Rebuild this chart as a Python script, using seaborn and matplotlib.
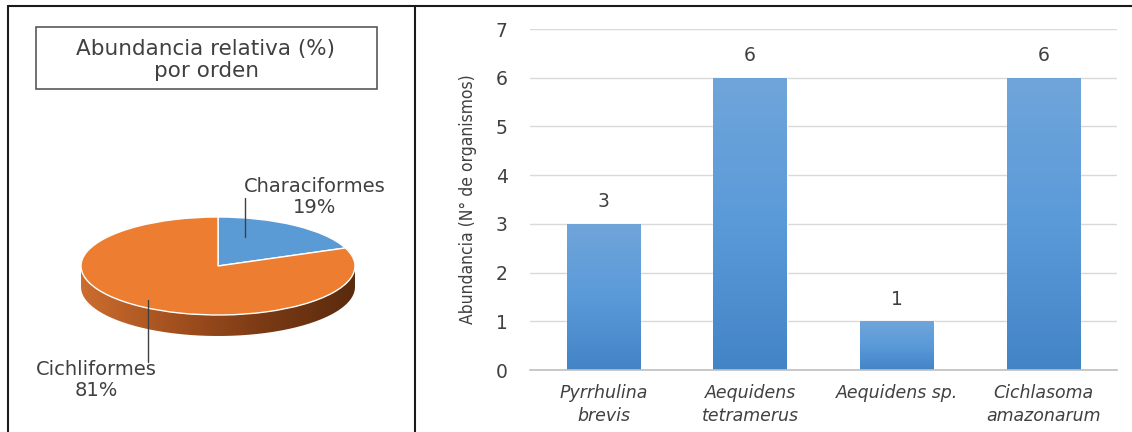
import numpy as np
import pandas as pd
import matplotlib
matplotlib.use("Agg")
import matplotlib.pyplot as plt
import seaborn as sns
from matplotlib import font_manager as fm
from matplotlib.lines import Line2D
from matplotlib.patches import Rectangle, PathPatch
from matplotlib.path import Path
from matplotlib.colors import LinearSegmentedColormap

# ---------------- data ----------------
orders = ["Characiformes", "Cichliformes"]
order_pct = [19, 81]
species = ["Pyrrhulina\nbrevis", "Aequidens\ntetramerus", "Aequidens sp.", "Cichlasoma\namazonarum"]
counts = [3, 6, 1, 6]
yticks = [0, 1, 2, 3, 4, 5, 6, 7]

pie_title = "Abundancia relativa (%)\npor orden"
ylabel = "Abundancia (N° de organismos)"

# ---------------- style ----------------
sns.set_theme(style="white")
plt.rcParams["font.family"] = ["DejaVu Sans"]
TXT = "#404040"

avail = {f.name for f in fm.fontManager.ttflist}
if "Liberation Sans Narrow" in avail:
    ylab_font = dict(family=["Liberation Sans Narrow"], fontstretch="condensed", fontsize=14.5)
else:
    ylab_font = dict(family=["DejaVu Sans"], fontstretch="condensed", fontsize=12.5)

W, H = 1132, 432
fig = plt.figure(figsize=(W / 100, H / 100), dpi=100)


def fx(x):
    return x / W


def fy(y):
    return 1 - y / H


# ---------------- frame lines ----------------
for (x0, y0, x1, y1) in [(8, 6, 1132, 6), (8, 6, 8, 432), (415, 6, 415, 432)]:
    fig.add_artist(Line2D([fx(x0), fx(x1)], [fy(y0), fy(y1)], color="#1a1a1a", lw=1.5))

# ---------------- pie panel ----------------
cx, cy, a, b, depth_px = 218, 266, 137, 49, 21
axp = fig.add_axes([fx(10), 0, fx(413) - fx(10), fy(8)])
pie_colors = ["#5B9BD5", "#ED7D31"]

d = depth_px / b
t = np.linspace(np.pi, 2 * np.pi, 200)
xs = np.concatenate([np.cos(t), np.cos(t[::-1])])
ys = np.concatenate([np.sin(t) - d, np.sin(t[::-1])])
side_patch = PathPatch(Path(np.column_stack([xs, ys])), facecolor="none", edgecolor="none")
axp.add_patch(side_patch)
side_cmap = LinearSegmentedColormap.from_list("side", ["#cc6d2f", "#a4511f", "#7a3a14", "#5a2b0e"])
grad = np.linspace(0, 1, 256).reshape(1, -1)
im = axp.imshow(grad, cmap=side_cmap, extent=[-1, 1, -1 - d, 0], aspect="auto", zorder=1)
im.set_clip_path(side_patch)

axp.pie(order_pct, colors=pie_colors, startangle=90, counterclock=False,
        wedgeprops=dict(edgecolor="white", linewidth=1.0, zorder=2))
axp.set_aspect("auto")
axp.set_xlim((10 - cx) / a, (413 - cx) / a)
axp.set_ylim(-(432 - cy) / b, (cy - 8) / b)
axp.axis("off")

# title box
fig.add_artist(Rectangle((fx(36), fy(89)), fx(377) - fx(36), fy(27) - fy(89),
                         transform=fig.transFigure, facecolor="white", edgecolor="#595959", lw=1.2))
fig.text(fx(206), fy(60), pie_title, ha="center", va="center", fontsize=15.5, color=TXT, linespacing=1.1)

# pie labels and leader lines
fig.text(fx(315), fy(197), f"{orders[0]}\n{order_pct[0]}%", ha="center", va="center",
         fontsize=14, color=TXT, linespacing=1.15)
fig.text(fx(96), fy(380), f"{orders[1]}\n{order_pct[1]}%", ha="center", va="center",
         fontsize=14, color=TXT, linespacing=1.15)
fig.add_artist(Line2D([fx(245), fx(245)], [fy(198), fy(237)], color=TXT, lw=1))
fig.add_artist(Line2D([fx(148), fx(148)], [fy(300), fy(362)], color=TXT, lw=1))

# ---------------- bar panel ----------------
axb = fig.add_axes([fx(530), fy(370), fx(1117) - fx(530), fy(29) - fy(370)])
df = pd.DataFrame({"species": species, "count": counts})
sns.barplot(data=df, x="species", y="count", ax=axb, width=0.5, color="#5B9BD5", zorder=3)

bar_cmap = LinearSegmentedColormap.from_list("bar", ["#4384c6", "#5a9ad9", "#70a5da"])
vgrad = np.linspace(0, 1, 256).reshape(-1, 1)
for p in axb.patches:
    x0, w, h = p.get_x(), p.get_width(), p.get_height()
    gi = axb.imshow(vgrad, cmap=bar_cmap, origin="lower", extent=[x0, x0 + w, 0, h],
                    aspect="auto", zorder=3.5)
    gi.set_clip_path(p)

axb.set_xlim(-0.5, len(species) - 0.5)
axb.set_ylim(0, 7)
axb.set_yticks(yticks)
axb.yaxis.grid(True, color="#d9d9d9", lw=1)
axb.set_axisbelow(True)
for s in ["top", "right", "left"]:
    axb.spines[s].set_visible(False)
axb.spines["bottom"].set_color("#bfbfbf")
axb.spines["bottom"].set_linewidth(1.2)
axb.spines["bottom"].set_zorder(5)
axb.tick_params(axis="y", length=0, pad=16, labelsize=13.5, labelcolor=TXT)
axb.tick_params(axis="x", length=0, pad=10, labelsize=12.5, labelcolor=TXT)
for lab in axb.get_xticklabels():
    lab.set_fontstyle("italic")
    lab.set_linespacing(1.35)
axb.set_xlabel("")
axb.set_ylabel(ylabel, color=TXT, **ylab_font)
axb.yaxis.set_label_coords(-0.09, 0.5)

for p, v in zip(axb.patches, counts):
    axb.annotate(str(v), (p.get_x() + p.get_width() / 2, v), xytext=(0, 9),
                 textcoords="offset points", ha="center", va="bottom", fontsize=13.5, color=TXT)

fig.savefig("out.png", dpi=100)
